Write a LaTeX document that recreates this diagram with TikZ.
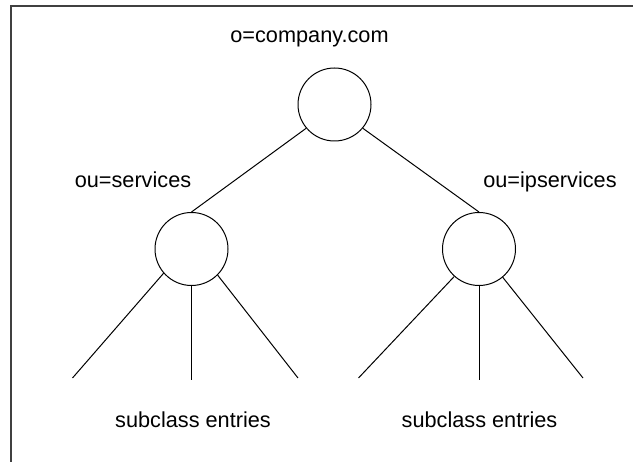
\documentclass[tikz,border=0pt]{standalone}
\usepackage{fontspec}
\setmainfont{Liberation Sans}
\begin{document}
\begin{tikzpicture}[x=1pt,y=-1pt,
  entry/.style={circle,draw,line width=1pt,minimum size=73pt,inner sep=0pt},
  link/.style={line width=1pt},
  lbl/.style={font=\fontsize{21.7}{24}\selectfont,inner sep=0pt,anchor=base}]
\useasboundingbox (0,0) rectangle (633,462);
\draw[line width=2pt,black!75] (11,462) -- (11,6) -- (633,6);
\node[entry] (root) at (334.5,104.5) {};
\node[entry] (svc) at (191.5,249) {};
\node[entry] (ips) at (479,249) {};
\node[lbl] (troot) at (309.5,43) {o=company.com};
\node[lbl] (tsvc) at (133,188) {ou=services};
\node[lbl] (tips) at (550,188) {ou=ipservices};
\node[lbl] (tsub1) at (193,428) {subclass entries};
\node[lbl] (tsub2) at (479.5,428) {subclass entries};
\coordinate (a1) at (72.5,378);
\coordinate (a2) at (191.5,380);
\coordinate (a3) at (298,378);
\coordinate (b1) at (358.5,378);
\coordinate (b2) at (479,380);
\coordinate (b3) at (583,378);
\draw[link] (root.-140) -- (svc.north);
\draw[link] (root.-40) -- (ips.north);
\draw[link] (svc.-139) -- (a1);
\draw[link] (svc.south) -- (a2);
\draw[link] (svc.-45) -- (a3);
\draw[link] (ips.-132) -- (b1);
\draw[link] (ips.south) -- (b2);
\draw[link] (ips.-50) -- (b3);
\end{tikzpicture}
\end{document}
